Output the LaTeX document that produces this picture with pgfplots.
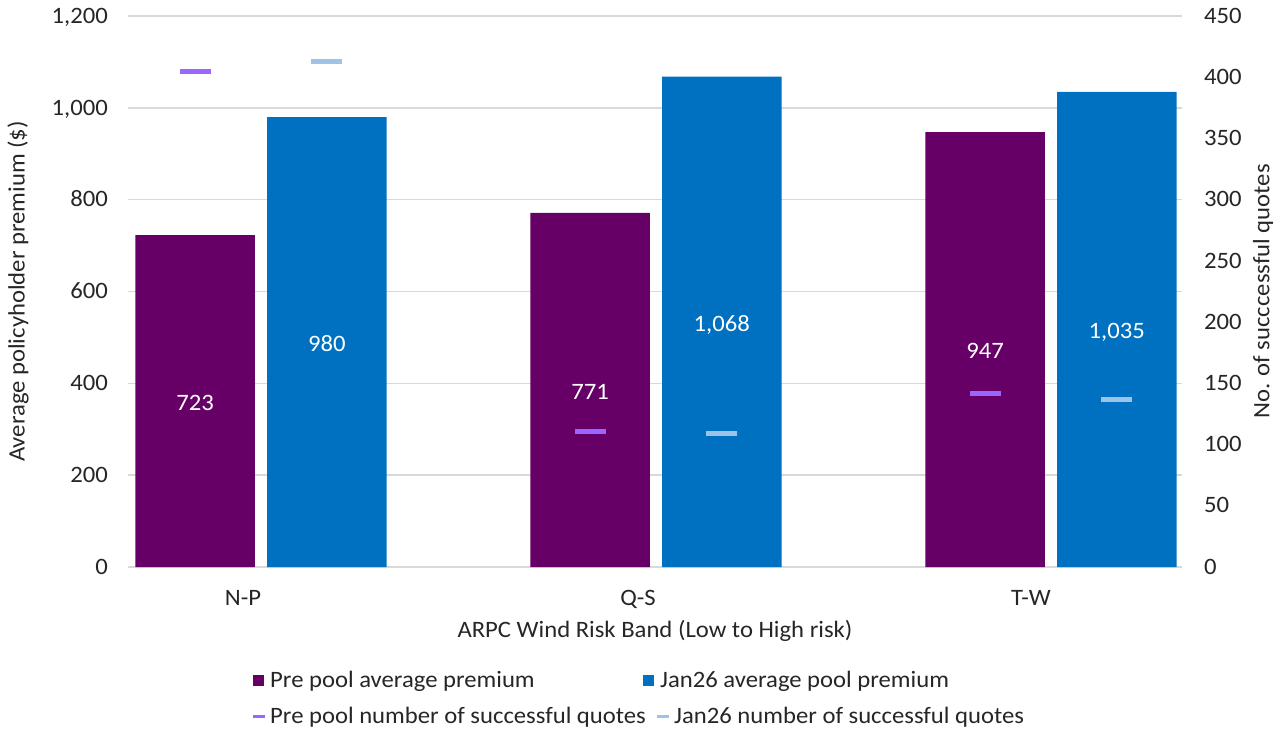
\documentclass[border=0pt]{standalone}
\usepackage{pgfplots}
\pgfplotsset{compat=1.18}
\usepackage{fontspec}
\setmainfont{Carlito}[FakeStretch=1.05]
\definecolor{prebar}{HTML}{660066}
\definecolor{janbar}{HTML}{0070C0}
\definecolor{premk}{HTML}{9966FF}
\definecolor{janmk}{HTML}{9DC3E6}
\definecolor{gridc}{HTML}{D9D9D9}
\definecolor{txt}{HTML}{262626}
\begin{document}
\begin{tikzpicture}[font=\fontsize{23.5}{28}\selectfont, text=txt]
\path[use as bounding box] (0,0) rectangle (1284pt,729pt);
\begin{axis}[
  at={(128pt,162pt)}, anchor=south west,
  scale only axis, width=1054pt, height=551pt,
  xmin=128, xmax=1182, ymin=0, ymax=1200,
  ytick={0,200,...,1200},
  xtick={243,638,1031}, xticklabels={N-P,Q-S,T-W},
  major tick length=0pt,
  axis line style={draw=none},
  axis y line*=left,
  ymajorgrids, grid style={gridc, line width=1.5pt},
  /pgf/number format/assume math mode=true,
  /pgf/number format/1000 sep={,},
  yticklabel style={inner sep=0pt, anchor=east, xshift=-20pt, yshift=-4pt, text height=0.64em, text depth=0pt},
  xticklabel style={inner sep=0pt, anchor=north, yshift=-23pt},
  every axis y label/.style={at={(rel axis cs:0,0.5)}, anchor=center, rotate=90, yshift=110pt},
  ylabel={Average policyholder premium (\$)},
  every axis x label/.style={at={(rel axis cs:0.5,0)}, anchor=center, yshift=-64pt},
  xlabel={ARPC Wind Risk Band (Low to High risk)},
  ybar, bar width=119.5, bar shift=0pt,
  nodes near coords,
  visualization depends on=rawy \as \rawy,
  every node near coord/.append style={white, anchor=center, inner sep=0pt, text height=0.64em, text depth=0pt, yshift=-0.229583*\rawy-6},
  clip=false,
]
\addplot[fill=prebar, draw=none] coordinates {(195.2,723) (590.2,771) (985.2,947)};
\addplot[fill=janbar, draw=none] coordinates {(326.8,980) (721.8,1068) (1116.8,1035)};
\end{axis}
\begin{axis}[
  at={(128pt,162pt)}, anchor=south west,
  scale only axis, width=1054pt, height=551pt,
  xmin=128, xmax=1182, ymin=0, ymax=450,
  ytick={0,50,...,450},
  hide x axis,
  axis y line*=right,
  axis line style={draw=none},
  major tick length=0pt,
  /pgf/number format/assume math mode=true,
  yticklabel style={inner sep=0pt, anchor=west, xshift=22pt, yshift=-4pt, text height=0.64em, text depth=0pt},
  every axis y label/.style={at={(rel axis cs:1,0.5)}, anchor=center, rotate=90, yshift=-81pt},
  ylabel={No. of succcessful quotes},
  clip=false,
]
\addplot[only marks, mark=-, mark size=15.5pt, mark options={draw=premk, line width=5pt}] coordinates {(195.2,405) (590.2,111) (985.2,142)};
\addplot[only marks, mark=-, mark size=15.5pt, mark options={draw=janmk, line width=5pt}] coordinates {(326.8,413) (721.8,109) (1116.8,137)};
\end{axis}
% legend
\fill[prebar] (253pt,43.5pt) rectangle (264pt,54.5pt);
\node[anchor=base west, inner sep=0pt] at (270pt,41.3pt) {Pre pool average premium};
\fill[janbar] (643pt,43.5pt) rectangle (654pt,54.5pt);
\node[anchor=base west, inner sep=0pt] at (660pt,41.3pt) {Jan26 average pool premium};
\fill[premk] (253pt,11.5pt) rectangle (265pt,14.5pt);
\node[anchor=base west, inner sep=0pt] at (270pt,5.3pt) {Pre pool number of successful quotes};
\fill[janmk] (657pt,11.5pt) rectangle (669pt,14.5pt);
\node[anchor=base west, inner sep=0pt] at (674pt,5.3pt) {Jan26 number of successful quotes};
\end{tikzpicture}
\end{document}
